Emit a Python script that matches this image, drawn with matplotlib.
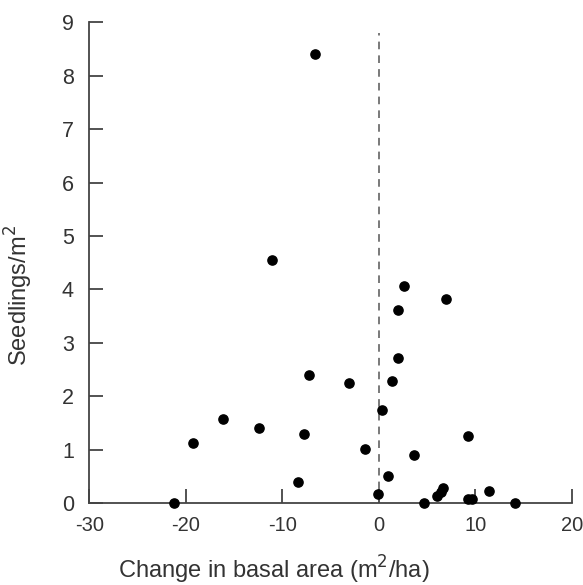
import matplotlib.pyplot as plt

# change in basal area (m2/ha) and seedling density (seedlings/m2)
basal_change = [-6.6, -11.05, 2.6, 7.0, 2.0, 2.0, -7.2, -3.1, 1.4, 0.35,
                -7.7, 9.2, -1.4, 3.6, -8.4, 0.9, -0.1, 4.7, 6.6, 6.4,
                6.0, 9.2, 9.6, 11.4, 14.1, -19.2, -16.1, -12.4, -21.2]
seedlings = [8.41, 4.55, 4.06, 3.82, 3.61, 2.72, 2.40, 2.25, 2.28, 1.74,
             1.30, 1.26, 1.01, 0.90, 0.40, 0.50, 0.17, 0.01, 0.29, 0.21,
             0.14, 0.07, 0.07, 0.23, 0.0, 1.12, 1.58, 1.41, 0.0]

x_ticks = [-30, -20, -10, 0, 10, 20]
y_ticks = [0, 1, 2, 3, 4, 5, 6, 7, 8, 9]

plt.rcParams['font.family'] = ['Liberation Sans', 'DejaVu Sans']
plt.rcParams['axes.unicode_minus'] = False
txt = '#333333'
axc = '#444444'

fig = plt.figure(figsize=(5.83, 5.85), dpi=100)
ax = fig.add_axes([0.153, 0.140, 0.828, 0.822])

ax.scatter(basal_change, seedlings, s=44, color='black', zorder=3, clip_on=False)
ax.plot([0, 0], [0, 8.8], linestyle=(0, (5, 4)), color='#555555', linewidth=1.1)

ax.set_xlim(-30, 20)
ax.set_ylim(0, 9)
ax.set_xticks(x_ticks)
ax.set_yticks(y_ticks)

for s in ['top', 'right']:
    ax.spines[s].set_visible(False)
for s in ['left', 'bottom']:
    ax.spines[s].set_color(axc)
    ax.spines[s].set_linewidth(1.3)

ax.tick_params(axis='y', direction='in', length=10, width=1.3, color=axc,
               pad=11, labelsize=15.5, labelcolor=txt)
ax.tick_params(axis='x', direction='in', length=10, width=1.3, color=axc,
               pad=9, labelsize=14.5, labelcolor=txt)

ax.set_xlabel('Change in basal area (m$^2$/ha)', fontsize=17, color=txt)
ax.set_ylabel('Seedlings/m$^2$', fontsize=17, color=txt)
ax.xaxis.set_label_coords(0.382, -0.106)
ax.yaxis.set_label_coords(-0.112, 0.432)

fig.savefig('out.png', dpi=100)
